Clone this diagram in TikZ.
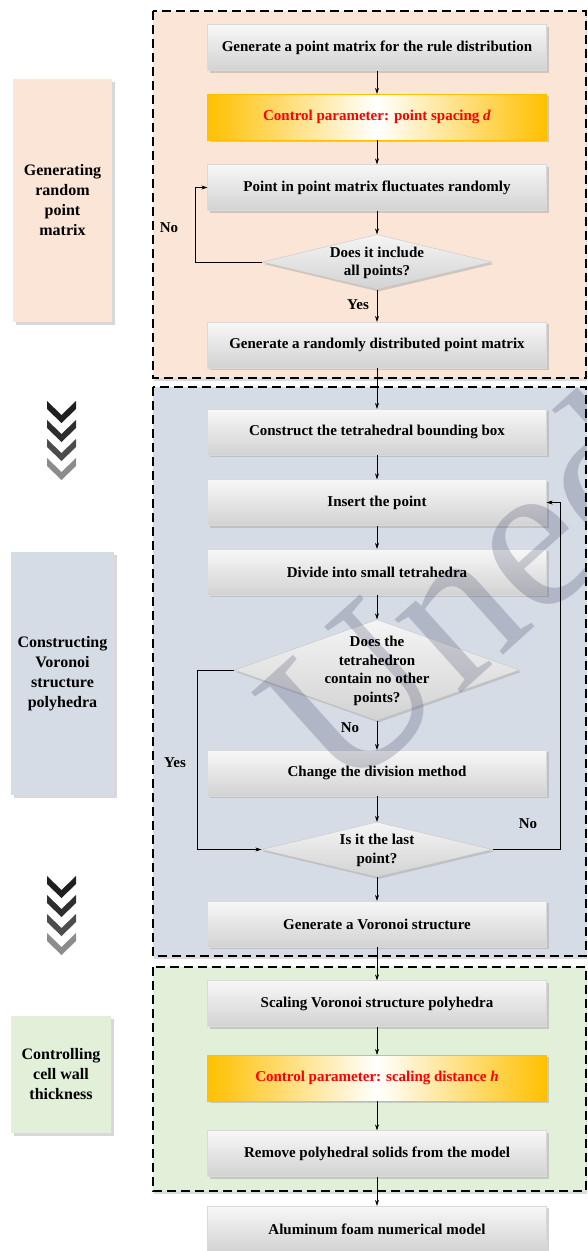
\documentclass[tikz,border=0pt]{standalone}
\usepackage{fontspec}
\setmainfont{Liberation Serif}
\usepackage{tikz}
\usetikzlibrary{shapes.geometric,shadows,arrows.meta}

\definecolor{peach}{RGB}{251,229,214}
\definecolor{bluegray}{RGB}{214,220,229}
\definecolor{palegreen}{RGB}{226,240,217}
\definecolor{gold}{RGB}{255,192,0}

\begin{document}
\begin{tikzpicture}[x=1pt, y=-1pt,
	proc/.style={shape=rectangle, minimum width=339pt, minimum height=46pt, inner sep=0pt,
		top color=gray!6, bottom color=gray!35, draw=gray!30,
		font=\fontsize{15}{18}\selectfont\bfseries,
		drop shadow={shadow xshift=2pt, shadow yshift=-2pt, fill=gray!70}},
	ctrl/.style={proc, left color=gold, right color=gold, middle color=white, draw=gold, text=red},
	decision/.style={shape=diamond, inner sep=0pt, top color=gray!8, bottom color=gray!35, draw=gray!45,
		drop shadow={shadow xshift=1.5pt, shadow yshift=-2pt, fill=gray!70}},
	dtext/.style={align=center, font=\fontsize{15}{18.5}\selectfont\bfseries},
	stage/.style={shape=rectangle, inner sep=0pt, align=center,
		font=\fontsize{16}{20}\selectfont\bfseries,
		drop shadow={shadow xshift=2.5pt, shadow yshift=-2.5pt, fill=gray!60}},
	group/.style={draw=black, line width=1.3pt, dash pattern=on 9pt off 5pt,
		drop shadow={shadow xshift=1pt, shadow yshift=-2.5pt, fill=gray!55}},
	lbl/.style={font=\fontsize{15}{18}\selectfont\bfseries},
	arr/.style={-{Stealth[length=6pt, width=4pt]}, line width=0.6pt}]

	\useasboundingbox (0,0) rectangle (587,1251);

	\draw[group, fill=peach] (153,11) rectangle (586,378);
	\draw[group, fill=bluegray] (153,387) rectangle (586,956);
	\draw[group, fill=palegreen] (153,967) rectangle (586,1191);

	\node[stage, fill=peach, minimum width=99pt, minimum height=243pt] (s1) at (62.5,200.5) {Generating\\random\\point\\matrix};
	\node[stage, fill=bluegray, minimum width=103pt, minimum height=243pt] (s2) at (62.5,673.5) {Constructing\\Voronoi\\structure\\polyhedra};
	\node[stage, fill=palegreen, minimum width=100pt, minimum height=117pt] (s3) at (61,1074.5) {Controlling\\cell wall\\thickness};

	\foreach \y in {401,876}
		\foreach \i/\c in {0/black!88, 1/black!82, 2/black!70, 3/black!45}
			\fill[\c, shift={(0,\y+19*\i)}] (47,0) -- (61.5,14) -- (76,0) -- (76,8) -- (61.5,22) -- (47,8) -- cycle;

	\node[proc] (b1) at (377,47.5) {Generate a point matrix for the rule distribution};
	\node[ctrl] (b2) at (377,117) {Control parameter: point spacing \textit{d}};
	\node[proc] (b3) at (377,187.5) {Point in point matrix fluctuates randomly};
	\node[decision, minimum width=230pt, minimum height=55pt] (d1) at (377,262) {};
	\node[dtext] (d1t) at (377,263) {Does it include\\all points?};
	\node[proc] (b4) at (377,345) {Generate a randomly distributed point matrix};

	\node[proc] (b5) at (377,432) {Construct the tetrahedral bounding box};
	\node[proc] (b6) at (377,502.5) {Insert the point};
	\node[proc] (b7) at (377,572) {Divide into small tetrahedra};
	\node[decision, minimum width=285pt, minimum height=101pt] (d2) at (377,670) {};
	\node[dtext] (d2t) at (377,671) {Does the\\tetrahedron\\contain no other\\points?};
	\node[proc] (b8) at (377,773) {Change the division method};
	\node[decision, minimum width=231pt, minimum height=55pt] (d3) at (377,849.5) {};
	\node[dtext] (d3t) at (377,850.5) {Is it the last\\point?};
	\node[proc] (b9) at (377,924) {Generate a Voronoi structure};

	\node[proc] (b10) at (377,1003.5) {Scaling Voronoi structure polyhedra};
	\node[ctrl] (b11) at (377,1078) {Control parameter: scaling distance \textit{h}};
	\node[proc] (b12) at (377,1153.5) {Remove polyhedral solids from the model};
	\node[proc] (b13) at (377,1229) {Aluminum foam numerical model};

	\node[lbl] (no1) at (169,228) {No};
	\node[lbl] (yes1) at (358,305) {Yes};
	\node[lbl] (no2) at (350,728) {No};
	\node[lbl] (yes2) at (175,763) {Yes};
	\node[lbl] (no3) at (528,824) {No};

	\path[arr] (b1) edge (b2);
	\path[arr] (b2) edge (b3);
	\path[arr] (b3) edge (d1);
	\path[arr] (d1) edge (b4);
	\path[arr] (b4) edge (b5);
	\path[arr] (b5) edge (b6);
	\path[arr] (b6) edge (b7);
	\path[arr] (b7) edge (d2);
	\path[arr] (d2) edge (b8);
	\path[arr] (b8) edge (d3);
	\path[arr] (d3) edge (b9);
	\path[arr] (b9) edge (b10);
	\path[arr] (b10) edge (b11);
	\path[arr] (b11) edge (b12);
	\path[arr] (b12) edge (b13);

	\draw[arr] (d1.west) -- ++(-67,0) |- (b3.west);
	\draw[arr] (d2.west) -- ++(-37,0) |- (d3.west);
	\draw[arr] (d3.east) -- ++(68,0) |- (b6.east);

	\begin{scope}
		\clip (153,387) rectangle (586,956);
		\node[rotate=42, text=black!80!blue, text opacity=0.17, font=\fontsize{215}{215}\selectfont] (wm) at (466,590) {Uned};
	\end{scope}

\end{tikzpicture}
\end{document}
